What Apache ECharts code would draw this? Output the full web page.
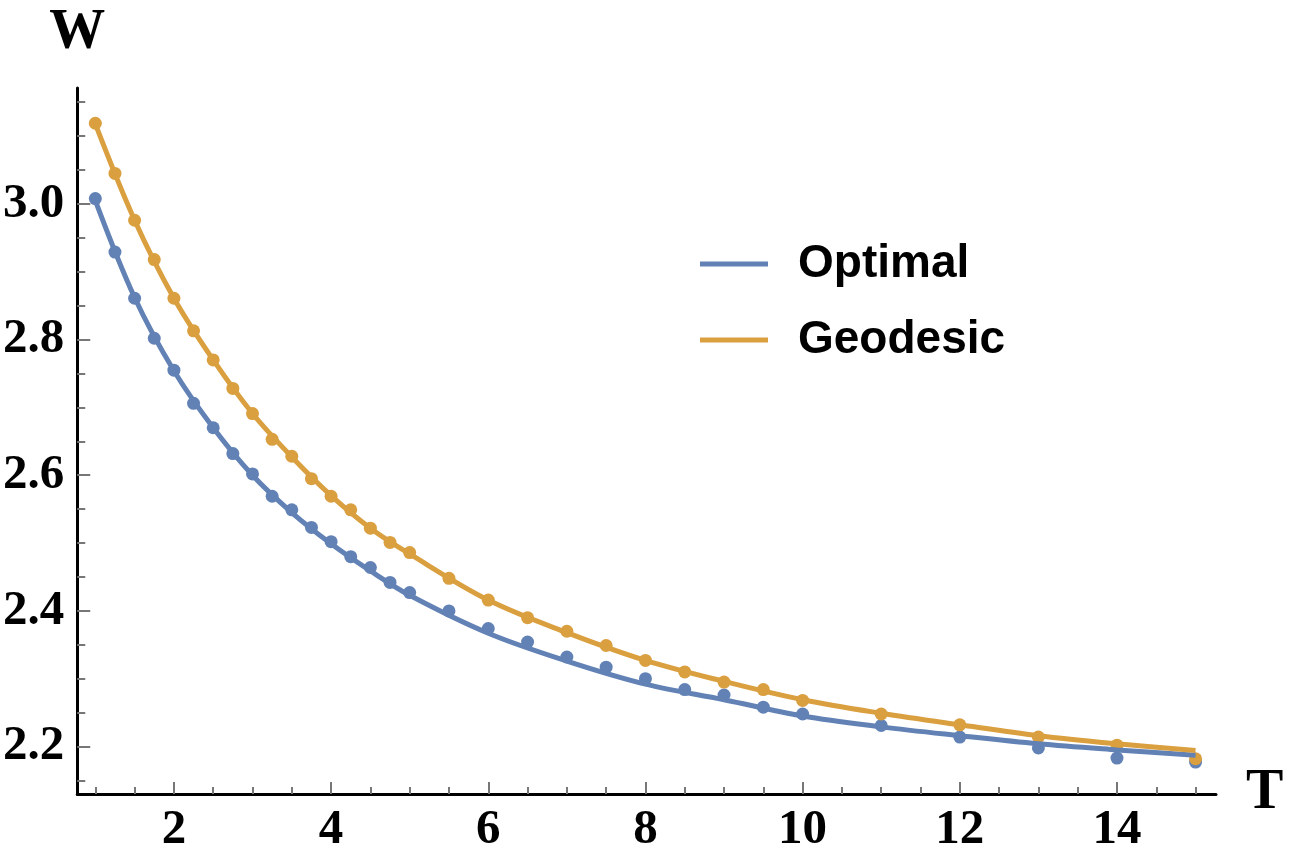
<!DOCTYPE html>
<html lang="en">
<head>
    <meta charset="UTF-8">
    <title>W vs T</title>
    <style>
        html, body { margin: 0; padding: 0; background: #fff; }
    </style>
</head>
<body>
    <div id="chart" style="width:1308px; height:867px"></div>

    <script src="https://cdn.jsdelivr.net/npm/echarts@6/dist/echarts.min.js"></script>
    <script>
        // sampled points (dots)
        const tDots = [1, 1.25, 1.5, 1.75, 2, 2.25, 2.5, 2.75, 3, 3.25, 3.5, 3.75, 4, 4.25, 4.5, 4.75, 5,
            5.5, 6, 6.5, 7, 7.5, 8, 8.5, 9, 9.5, 10, 11, 12, 13, 14, 15];
        const optimalDots = [3.008, 2.929, 2.861, 2.802, 2.755, 2.706, 2.670, 2.632, 2.602, 2.569, 2.549, 2.523,
            2.502, 2.480, 2.464, 2.442, 2.427, 2.400, 2.374, 2.354, 2.332, 2.317, 2.300, 2.284, 2.276, 2.258,
            2.248, 2.231, 2.214, 2.198, 2.183, 2.177];
        const geodesicDots = [3.119, 3.045, 2.976, 2.918, 2.861, 2.813, 2.770, 2.728, 2.691, 2.653, 2.628, 2.595,
            2.569, 2.549, 2.522, 2.501, 2.486, 2.448, 2.416, 2.390, 2.370, 2.349, 2.327, 2.310, 2.295, 2.284,
            2.268, 2.248, 2.232, 2.214, 2.202, 2.182];

        // fitted curves
        const tCurve = [1, 1.5, 2, 2.5, 3, 3.5, 4, 4.5, 5, 6, 7, 8, 9, 10, 11, 12, 13, 14, 15];
        const optimalCurve = [3.005, 2.862, 2.754, 2.670, 2.600, 2.545, 2.499, 2.459, 2.423, 2.367,
            2.326, 2.292, 2.269, 2.245, 2.229, 2.216, 2.204, 2.195, 2.187];
        const geodesicCurve = [3.118, 2.976, 2.861, 2.770, 2.691, 2.627, 2.570, 2.522, 2.484, 2.416,
            2.368, 2.327, 2.296, 2.269, 2.249, 2.232, 2.216, 2.204, 2.194];

        // ticks
        const xMajor = [2, 4, 6, 8, 10, 12, 14];
        const xMinor = [1, 1.5, 2.5, 3, 3.5, 4.5, 5, 5.5, 6.5, 7, 7.5, 8.5, 9, 9.5, 10.5, 11, 11.5, 12.5, 13, 13.5, 14.5, 15];
        const yMajor = [2.2, 2.4, 2.6, 2.8, 3.0];
        const yMinor = [2.15, 2.25, 2.3, 2.35, 2.45, 2.5, 2.55, 2.65, 2.7, 2.75, 2.85, 2.9, 2.95, 3.05, 3.1, 3.15];

        const BLUE = '#6282b6';
        const ORANGE = '#da9f3f';
        const zip = (xs, ys) => xs.map((x, i) => [x, ys[i]]);

        const labelFont = {
            color: '#000',
            fontFamily: 'Liberation Serif',
            fontWeight: 'bold',
            fontSize: 49
        };
        const tickStyle = { color: '#777', width: 2 };

        const chart = echarts.init(document.getElementById('chart'));
        chart.setOption({
            animation: false,
            grid: { left: 71, right: 92, top: 88, bottom: 73 },
            legend: {
                orient: 'vertical',
                left: 700,
                top: 241,
                padding: 0,
                icon: 'rect',
                itemWidth: 68,
                itemHeight: 5,
                itemGap: 30,
                data: ['Optimal', 'Geodesic'],
                textStyle: {
                    fontFamily: 'Liberation Sans',
                    fontWeight: 'bold',
                    fontSize: 46,
                    color: '#000',
                    padding: [0, 0, 0, 25]
                }
            },
            xAxis: [{
                type: 'value',
                min: 0.77,
                max: 15.26,
                position: 'bottom',
                name: 'T',
                nameLocation: 'end',
                nameGap: 30,
                nameTextStyle: Object.assign({}, labelFont, { fontSize: 56, padding: [0, 0, 6, 0] }),
                splitLine: { show: false },
                axisLine: { onZero: false, lineStyle: { color: '#000', width: 3 } },
                axisTick: { inside: true, length: 12, customValues: xMajor, lineStyle: tickStyle },
                axisLabel: Object.assign({ customValues: xMajor, margin: 12 }, labelFont)
            }, {
                type: 'value',
                min: 0.77,
                max: 15.26,
                position: 'bottom',
                splitLine: { show: false },
                axisLine: { show: false, onZero: false },
                axisTick: { inside: true, length: 7, customValues: xMinor, lineStyle: tickStyle },
                axisLabel: { show: false }
            }],
            yAxis: [{
                type: 'value',
                min: 2.13,
                max: 3.171,
                position: 'left',
                name: 'W',
                nameLocation: 'end',
                nameGap: 26,
                nameTextStyle: Object.assign({}, labelFont, { fontSize: 56 }),
                splitLine: { show: false },
                axisLine: { onZero: false, lineStyle: { color: '#000', width: 3 } },
                axisTick: { inside: true, length: 13, customValues: yMajor, lineStyle: tickStyle },
                axisLabel: Object.assign({
                    customValues: yMajor,
                    margin: 13,
                    formatter: v => v.toFixed(1)
                }, labelFont)
            }, {
                type: 'value',
                min: 2.13,
                max: 3.171,
                position: 'left',
                splitLine: { show: false },
                axisLine: { show: false, onZero: false },
                axisTick: { inside: true, length: 8, customValues: yMinor, lineStyle: tickStyle },
                axisLabel: { show: false }
            }],
            series: [{
                name: 'Optimal',
                type: 'line',
                smooth: 0.35,
                showSymbol: false,
                color: BLUE,
                lineStyle: { width: 5 },
                data: zip(tCurve, optimalCurve)
            }, {
                name: 'Optimal',
                type: 'scatter',
                symbolSize: 13,
                color: BLUE,
                itemStyle: { opacity: 1 },
                data: zip(tDots, optimalDots)
            }, {
                name: 'Geodesic',
                type: 'line',
                smooth: 0.35,
                showSymbol: false,
                color: ORANGE,
                lineStyle: { width: 5 },
                data: zip(tCurve, geodesicCurve)
            }, {
                name: 'Geodesic',
                type: 'scatter',
                symbolSize: 13,
                color: ORANGE,
                itemStyle: { opacity: 1 },
                data: zip(tDots, geodesicDots)
            }]
        });
    </script>
</body>
</html>
